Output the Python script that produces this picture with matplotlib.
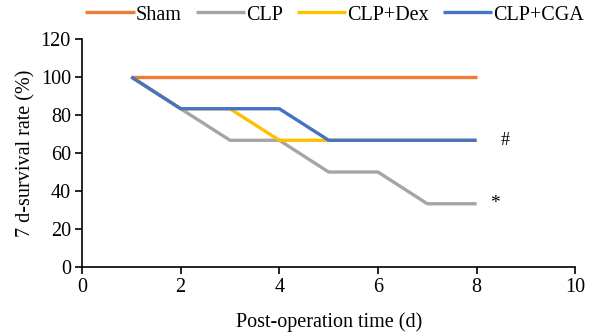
import matplotlib.pyplot as plt

plt.rcParams['font.family'] = ['Liberation Serif', 'DejaVu Serif']

# days after operation and survival (%) per group
days = [1, 2, 3, 4, 5, 6, 7, 8]
sham = [100, 100, 100, 100, 100, 100, 100, 100]
clp = [100, 83.3, 66.7, 66.7, 50, 50, 33.3, 33.3]
clp_dex = [100, 83.3, 83.3, 66.7, 66.7, 66.7, 66.7, 66.7]
clp_cga = [100, 83.3, 83.3, 83.3, 66.7, 66.7, 66.7, 66.7]

labels = ['Sham', 'CLP', 'CLP+Dex', 'CLP+CGA']
colors = ['#ED7D31', '#A5A5A5', '#FFC000', '#4472C4']

fig = plt.figure(figsize=(6.12, 3.33), dpi=100)
ax = fig.add_axes([0.134, 0.198, 0.806, 0.685])

for y, lab, c in zip([sham, clp, clp_dex, clp_cga], labels, colors):
    ax.plot(days, y, color=c, lw=2.4, label=lab, solid_capstyle='butt')

ax.text(8.58, 66.7, '#', fontsize=13, va='center', ha='center')
ax.text(8.38, 33.3, '*', fontsize=14, va='center', ha='center')

ax.set_xlim(0, 10)
ax.set_ylim(0, 120)
ax.set_xticks(range(0, 11, 2))
ax.set_yticks(range(0, 121, 20))
ax.spines['top'].set_visible(False)
ax.spines['right'].set_visible(False)
ax.spines['left'].set_linewidth(1.2)
ax.spines['bottom'].set_linewidth(1.2)
ax.tick_params(direction='out', length=5, width=1.2, labelsize=14.5, pad=3)
ax.set_xlabel('Post-operation time (d)', fontsize=14.5, labelpad=11)
ax.set_ylabel('7 d-survival rate (%)', fontsize=14.5, labelpad=4)

fig.legend(loc='center', bbox_to_anchor=(0.547, 0.955), ncol=4, frameon=False,
           fontsize=14.5, handlelength=2.45, handletextpad=0.05, columnspacing=0.7)

fig.savefig('out.png', dpi=100)
